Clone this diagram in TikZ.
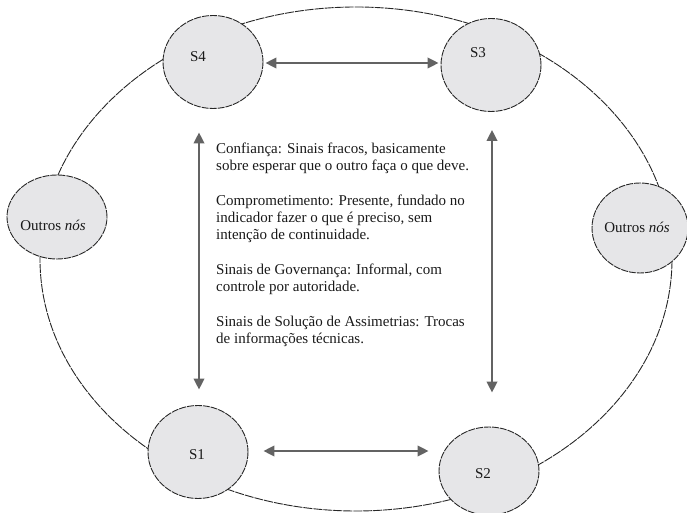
\documentclass[tikz,border=0pt]{standalone}
\usepackage{fontspec}
\setmainfont{Liberation Serif}
\usetikzlibrary{shapes.geometric,arrows.meta,calc}
\definecolor{nodefill}{HTML}{E6E6E8}
\definecolor{linec}{HTML}{262626}
\definecolor{arrowc}{HTML}{636363}
\tikzset{
  x=1pt,y=1pt,
  netnode/.style={ellipse,draw=linec,line width=0.9pt,dash pattern=on 7pt off 1pt,fill=nodefill,minimum width=100pt,minimum height=93pt,inner sep=0pt},
  lbl/.style={font=\fontsize{15}{17.3}\selectfont,inner sep=0pt,text=black!90},
  dbl/.style={draw=arrowc,line width=2.3pt,{Triangle[length=11pt,width=10.5pt]}-{Triangle[length=11pt,width=10.5pt]}},
  ring/.style={draw=linec,line width=0.9pt,dash pattern=on 9pt off 1pt}
}
\begin{document}
\begin{tikzpicture}
\useasboundingbox (0,0) rectangle (687,513);
% outer ring
\draw[ring] (356,254) ellipse [x radius=316, y radius=252];
% nodes
\node[netnode] (s4) at (213,451) {};
\node[netnode] (s3) at (491,448) {};
\node[netnode] (s1) at (198,61) {};
\node[netnode,minimum height=88pt] (s2) at (489,42) {};
\node[netnode,minimum height=84pt] (ol) at (57,296) {};
\node[netnode,minimum width=96pt,minimum height=90pt] (or) at (640,285) {};
% labels
\node[lbl] at ($(s4)+(-15,5)$) {S4};
\node[lbl] at ($(s3)+(-13,12)$) {S3};
\node[lbl] at ($(s1)+(-1,-3)$) {S1};
\node[lbl] at ($(s2)+(-6,-3)$) {S2};
\node[lbl] at ($(ol)+(-4,-8)$) {Outros \textit{nós}};
\node[lbl] at ($(or)+(-3,1)$) {Outros \textit{nós}};
% arrows
\draw[dbl] ([xshift=2pt]s4.east |- 0,450) -- ([xshift=-2pt]s3.west |- 0,450);
\draw[dbl] ([xshift=15pt]s1.east |- 0,62) -- ([xshift=-10pt]s2.west |- 0,62);
\draw[dbl] ($(s1.north |- s4.south)+(1,-23.5)$) -- ($(s1.north)+(1,15.5)$);
\draw[dbl] ($(s3.south)+(1,-18)$) -- ($(s2.north)+(3,34)$);
% text
\node[lbl,anchor=north west,align=left] (txt) at (216,370.5) {Confiança: Sinais fracos, basicamente\\
sobre esperar que o outro faça o que deve.\\[17.3pt]
Comprometimento: Presente, fundado no\\
indicador fazer o que é preciso, sem\\
intenção de continuidade.\\[17.3pt]
Sinais de Governança: Informal, com\\
controle por autoridade.\\[17.3pt]
Sinais de Solução de Assimetrias: Trocas\\
de informações técnicas.};
\end{tikzpicture}
\end{document}
